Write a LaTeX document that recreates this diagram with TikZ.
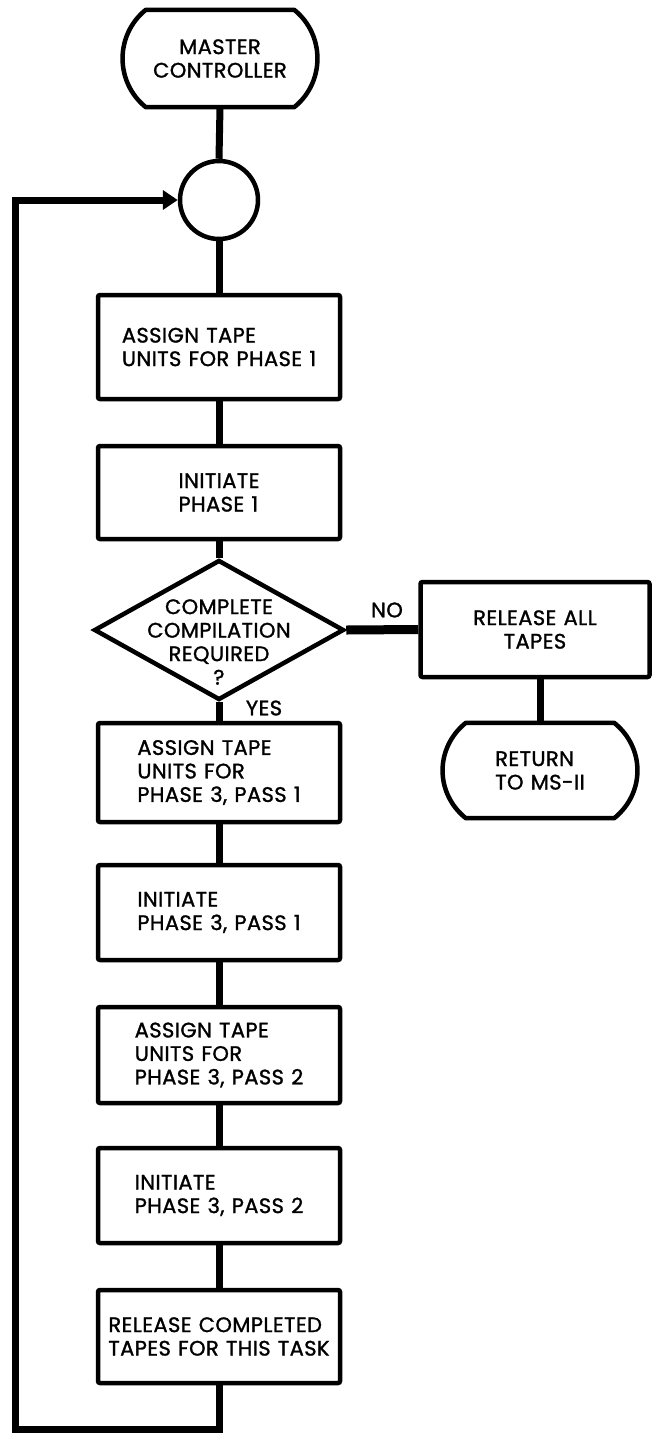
\documentclass[tikz,border=0pt]{standalone}
\usepackage{fontspec}
\newfontfamily\chartfont{Poppins}[FakeBold=1.3, LetterSpace=2, WordSpace=1.2]
\usetikzlibrary{shapes.geometric,arrows.meta}

% outline of a terminal (flat top and bottom, bulging sides) round a node
\newcommand\termoutline[1]{%
  \draw[outline] ([xshift=23pt]#1.north west) -- ([xshift=-23pt]#1.north east)
    .. controls ([shift={(8,25)}]#1.north east) and ([shift={(8,-25)}]#1.south east) .. ([xshift=-23pt]#1.south east)
    -- ([xshift=23pt]#1.south west)
    .. controls ([shift={(-8,-25)}]#1.south west) and ([shift={(-8,25)}]#1.north west) .. cycle;}

\begin{document}
\begin{tikzpicture}[x=1pt,y=-1pt,
  every node/.style={font=\chartfont\fontsize{21}{23.5}\selectfont, inner sep=0pt},
  outline/.style={line width=4.5pt, line join=round},
  stepbox/.style={draw, line width=4.5pt, rounded corners=2pt, minimum width=242pt, align=left},
  terminal/.style={minimum width=194pt, align=left},
  decision/.style={diamond, draw, line width=4.5pt, minimum width=250pt, minimum height=140pt},
  connector/.style={draw, line width=4.5pt, circle, minimum size=78pt},
  flow/.style={line width=7pt},
  loopback/.style={line width=7pt, -{Triangle[length=15pt,width=19pt]}}
]
\useasboundingbox (0,0) rectangle (652,1433);

% main column
\node[terminal, minimum height=97pt, align=center] (mc) at (220,58.5) {MASTER\\CONTROLLER};
\termoutline{mc}
\node[connector] (circ) at (219,200) {};
\node[stepbox, minimum height=104pt] (b1) at (219,347) {ASSIGN TAPE\\UNITS FOR PHASE 1};
\node[stepbox, minimum height=93pt] (b2) at (219,492.5) {INITIATE\\PHASE 1};
\node[decision] (dec) at (219,630) {};
\node[align=center] (dectext) at (219,642) {COMPLETE\\COMPILATION\\REQUIRED\\?};
\node[stepbox, minimum height=99pt] (b3) at (219,772.5) {ASSIGN TAPE\\UNITS FOR\\PHASE 3, PASS 1};
\node[stepbox, minimum height=95pt] (b4) at (219,912.5) {INITIATE\\PHASE 3, PASS 1};
\node[stepbox, minimum height=96pt] (b5) at (219,1055) {ASSIGN TAPE\\UNITS FOR\\PHASE 3, PASS 2};
\node[stepbox, minimum height=95pt] (b6) at (219,1195.5) {INITIATE\\PHASE 3, PASS 2};
\node[stepbox, minimum height=93pt] (b7) at (219,1336.5) {RELEASE COMPLETED\\TAPES FOR THIS TASK};

% side branch
\node[stepbox, minimum width=229pt, minimum height=95pt, align=center] (rel) at (535,629.5) {RELEASE ALL\\TAPES};
\node[terminal, minimum height=95pt] (ret) at (540,770.5) {RETURN\\TO MS-II};
\termoutline{ret}

% branch labels
\node (yes) at (264,708) {YES};
\node (no) at (387,610) {NO};

% connectors
\draw[flow] (mc.south) -- (circ.north);
\draw[flow] (circ.south) -- (b1.north);
\draw[flow] (b1.south) -- (b2.north);
\draw[flow] (b2.south) -- (dec.north);
\draw[flow] (dec.south) -- (b3.north);
\draw[flow] (b3.south) -- (b4.north);
\draw[flow] (b4.south) -- (b5.north);
\draw[flow] (b5.south) -- (b6.north);
\draw[flow] (b6.south) -- (b7.north);
\draw[line width=9pt] (dec.east) -- (rel.west);
\draw[flow] (ret.north |- rel.south) -- (ret.north);

% return path to the connector
\coordinate (lb) at (15.5,1429);
\draw[loopback] (b7.south) |- (lb) |- (circ.west);
\end{tikzpicture}
\end{document}
